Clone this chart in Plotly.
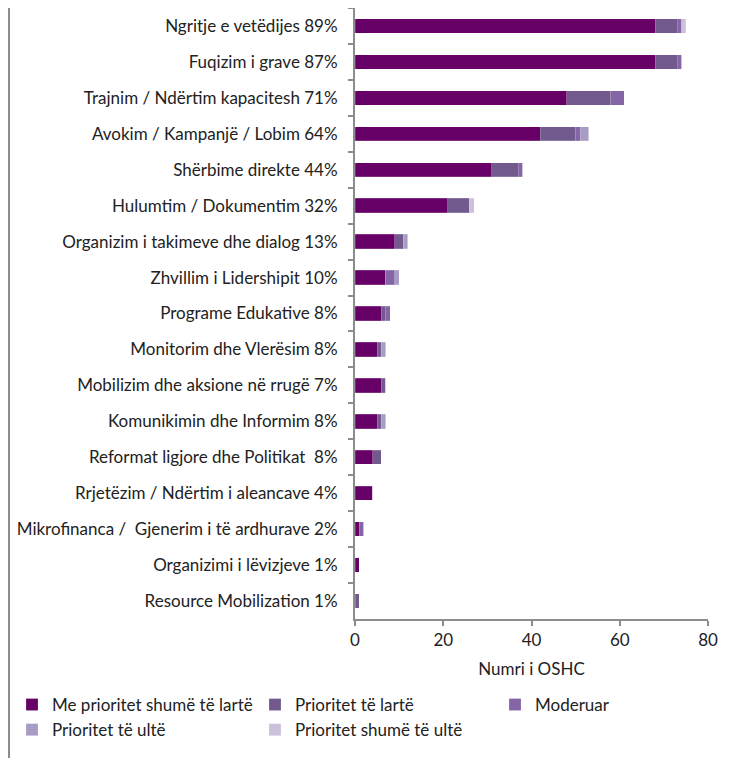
import plotly.graph_objects as go

categories = [
    "Ngritje e vetëdijes 89%",
    "Fuqizim i grave 87%",
    "Trajnim / Ndërtim kapacitesh 71%",
    "Avokim / Kampanjë / Lobim 64%",
    "Shërbime direkte 44%",
    "Hulumtim / Dokumentim 32%",
    "Organizim i takimeve dhe dialog 13%",
    "Zhvillim i Lidershipit 10%",
    "Programe Edukative 8%",
    "Monitorim dhe Vlerësim 8%",
    "Mobilizim dhe aksione në rrugë 7%",
    "Komunikimin dhe Informim 8%",
    "Reformat ligjore dhe Politikat  8%",
    "Rrjetëzim / Ndërtim i aleancave 4%",
    "Mikrofinanca /  Gjenerim i të ardhurave 2%",
    "Organizimi i lëvizjeve 1%",
    "Resource Mobilization 1%",
]

series_names = [
    "Me prioritet shumë të lartë",
    "Prioritet të lartë",
    "Moderuar",
    "Prioritet të ultë",
    "Prioritet shumë të ultë",
]

very_high = [68, 68, 48, 42, 31, 21, 9, 7, 6, 5, 6, 5, 4, 4, 1, 1, 0]
high      = [5, 5, 10, 8, 6, 5, 2, 0, 1, 1, 1, 1, 2, 0, 0, 0, 1]
moderate  = [1, 1, 3, 1, 1, 0, 0, 2, 1, 0, 0, 0, 0, 0, 1, 0, 0]
low       = [0, 0, 0, 2, 0, 0, 1, 1, 0, 1, 0, 1, 0, 0, 0, 0, 0]
very_low  = [1, 0, 0, 0, 0, 1, 0, 0, 0, 0, 0, 0, 0, 0, 0, 0, 0]

colors = ["#660066", "#725a8f", "#8466a6", "#a99cc4", "#ccc1da"]

values = [very_high, high, moderate, low, very_low]

# legend column per series (legend grid of 3 columns, 2 rows)
legend_ids = ["legend", "legend2", "legend3", "legend", "legend2"]

FONT = "Lato"
FS = 17
W, H = 734, 750
L, R, T, B = 347, 34, 0, 139
pw = W - L - R
ph = H - T - B

fig = go.Figure()
for name, vals, col, lg in zip(series_names, values, colors, legend_ids):
    fig.add_trace(go.Bar(
        y=categories, x=vals, name=name, orientation="h",
        marker=dict(color=col, line=dict(color="rgba(255,255,255,0.35)", width=0.5)),
        legend=lg,
    ))

legend_top = 679
def legend_cfg(px_left):
    return dict(
        orientation="v", x=(px_left - L) / pw, xanchor="left",
        y=-(legend_top - T - ph) / ph, yanchor="top",
        itemwidth=30, traceorder="normal",
        font=dict(family=FONT, size=FS, color="#222222"),
        tracegroupgap=0, bgcolor="rgba(0,0,0,0)",
    )

fig.update_layout(
    barmode="stack",
    bargap=0.6,
    width=W, height=H,
    margin=dict(l=L, r=R, t=T, b=B, autoexpand=False),
    plot_bgcolor="white", paper_bgcolor="white",
    font=dict(family=FONT, size=FS, color="#222222"),
    showlegend=True,
    legend=legend_cfg(4),
    legend2=legend_cfg(247),
    legend3=legend_cfg(487),
    shapes=[dict(type="line", xref="paper", yref="paper",
                 x0=(1 - L) / pw, x1=(1 - L) / pw, y0=-2, y1=2,
                 line=dict(color="#8c8c8c", width=2))],
)

fig.update_xaxes(
    range=[0, 80], tickvals=[0, 20, 40, 60, 80],
    showgrid=False, zeroline=False,
    showline=True, linecolor="#8c8c8c", linewidth=2,
    ticks="outside", ticklen=5, tickcolor="#8c8c8c", tickwidth=2,
    title=dict(text="Numri i OSHC", standoff=14, font=dict(family=FONT, size=FS)),
    tickfont=dict(family=FONT, size=FS),
)
fig.update_yaxes(
    categoryorder="array", categoryarray=categories, autorange="reversed",
    showgrid=False, showline=True, linecolor="#8c8c8c", linewidth=2,
    ticks="outside", ticklen=5, tickcolor="#8c8c8c", tickwidth=2,
    tickson="boundaries", ticklabelstandoff=12,
    tickfont=dict(family=FONT, size=FS),
)

fig.write_html("out.html")
